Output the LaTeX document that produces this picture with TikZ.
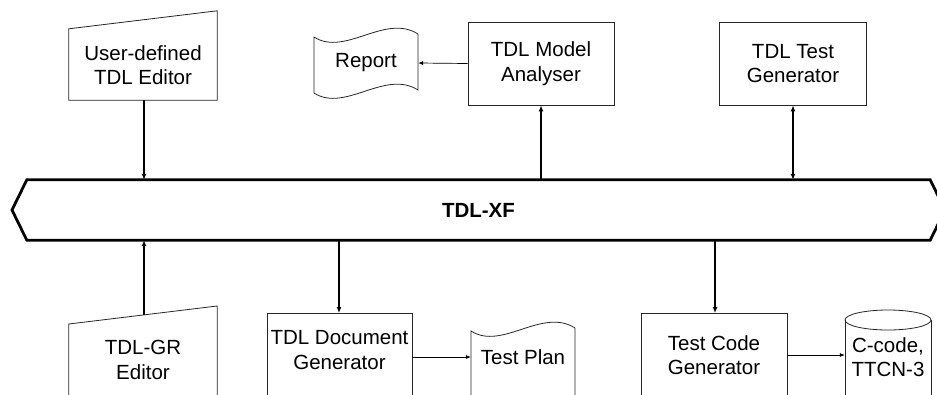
\documentclass[tikz,border=0pt]{standalone}
\usepackage{fontspec}
\setmainfont{Liberation Sans}
\usetikzlibrary{arrows.meta,calc}
\begin{document}
\begin{tikzpicture}[x=1pt,y=-1pt,
  shp/.style={draw=black!85, line width=0.8pt},
  lbl/.style={font=\fontsize{20.5}{24.5}\selectfont, align=center, inner sep=0pt},
  boxnode/.style={shp, rectangle, inner sep=0pt},
  hidden/.style={rectangle, inner sep=0pt},
  bigarrow/.style={line width=1.8pt, -{Latex[length=6pt,width=5pt]}},
  bigboth/.style={line width=1.8pt, {Latex[length=6pt,width=5pt]}-{Latex[length=6pt,width=5pt]}},
  smallarrow/.style={line width=0.7pt, -{Latex[length=5pt,width=4pt]}}
]
\useasboundingbox (0,0) rectangle (937,394);
\clip (0,0) rectangle (937,394);
\fill[white] (0,0) rectangle (937,394);

% bus
\node[hidden, minimum width=903pt, minimum height=60pt] (bus) at (478.5,210) {};
\draw[line width=2.8pt, line join=miter] (12,210) -- (bus.north west) -- (bus.north east) -- (945,210) -- (bus.south east) -- (bus.south west) -- cycle;
\node[lbl, font=\fontsize{20.5}{24.5}\selectfont\bfseries] (busT) at (bus.center) {TDL-XF};

% user-defined editor
\node[hidden, minimum width=148pt, minimum height=89pt] (ude) at (143,55.5) {};
\draw[shp] (ude.south west) -- (ude.south east) -- (ude.north east) -- ($(ude.north west)+(0,18)$) -- cycle;
\node[lbl] (udeT) at (143,65) {User-defined\\TDL Editor};
\coordinate (udebot) at (144,100);
\draw[bigarrow] (udebot) -- (udebot |- bus.north);

% TDL-GR editor
\node[hidden, minimum width=148pt, minimum height=120pt, anchor=north] (gr) at (143,306) {};
\draw[shp] (gr.south west) -- ($(gr.north west)+(0,18)$) -- (gr.north east) -- (gr.south east);
\node[lbl] (grT) at (143,360) {TDL-GR\\Editor};
\coordinate (grtop) at (144,315);
\draw[bigarrow] (grtop) -- (grtop |- bus.south);

% report
\node[hidden, minimum width=104pt, minimum height=56pt] (report) at (366,63) {};
\draw[shp] (314,37) .. controls (345,57) and (385,13) .. (418,34) -- (418,90)
  .. controls (385,69) and (345,113) .. (314,93) -- cycle;
\node[lbl] (reportT) at (366,63) {Report};

% analyser
\node[boxnode, lbl, minimum width=146pt, minimum height=83pt] (ana) at (541,63.5) {TDL Model\\Analyser};
\draw[bigarrow] (bus.north -| ana.south) -- (ana.south);
\draw[smallarrow] (ana.west) -- (report.east);

% test generator
\node[boxnode, lbl, minimum width=147pt, minimum height=83pt] (tgen) at (793,63.5) {TDL Test\\Generator};
\draw[bigboth] (tgen.south) -- (tgen.south |- bus.north);

% document generator
\node[boxnode, minimum width=145pt, minimum height=120pt, anchor=north] (dg) at (339.5,313) {};
\node[lbl] (dgT) at (339.5,350) {TDL Document\\Generator};
\coordinate (dgtop) at (339,313);
\draw[bigarrow] (bus.south -| dgtop) -- (dgtop);

% test plan
\node[hidden, minimum width=104pt, minimum height=40pt] (tp) at (523,357) {};
\draw[shp] (471,420) -- (471,331) .. controls (502,351) and (542,307) .. (575,328) -- (575,420);
\node[lbl] (tpT) at (523,357) {Test Plan};
\draw[smallarrow] (tp.west -| dg.east) -- (tp.west);

% test code generator
\node[boxnode, minimum width=146pt, minimum height=120pt, anchor=north] (tcg) at (714,313) {};
\node[lbl] (tcgT) at (714,355) {Test Code\\Generator};
\coordinate (tcgtop) at (715,313);
\draw[bigarrow] (bus.south -| tcgtop) -- (tcgtop);

% cylinder
\node[hidden, minimum width=86pt, minimum height=60pt] (cyl) at (888,355) {};
\draw[shp] (845,320) -- (845,420) (931,320) -- (931,420);
\draw[shp] (888,320) ellipse [x radius=43pt, y radius=10pt];
\node[lbl] (cylT) at (888,357) {C-code,\\TTCN-3};
\draw[smallarrow] (cyl.west -| tcg.east) -- (cyl.west);
\end{tikzpicture}
\end{document}
